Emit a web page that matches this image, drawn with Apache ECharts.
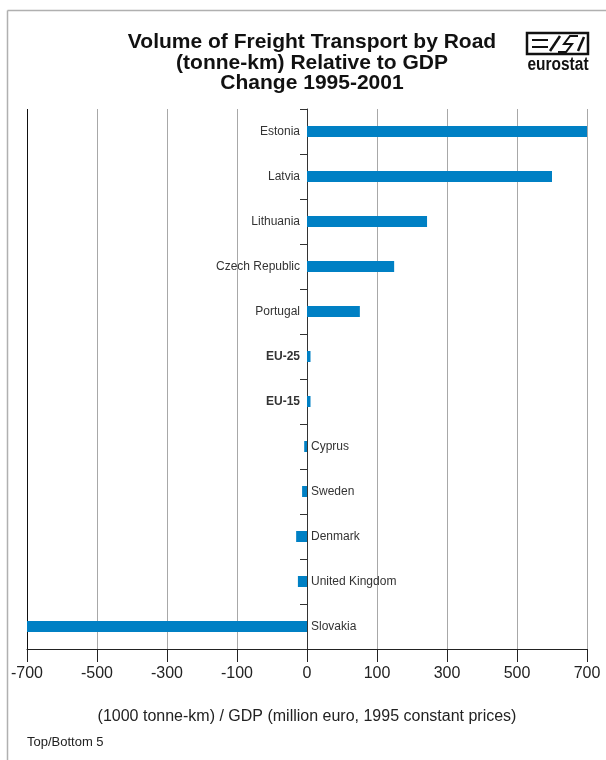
<!DOCTYPE html>
<html>
<head>
<meta charset="utf-8">
<script src="https://cdn.jsdelivr.net/npm/echarts@6/dist/echarts.min.js"></script>
<style>
html,body{margin:0;padding:0;background:#fff;}
#chart{width:606px;height:760px;}
</style>
</head>
<body>
<div id="chart"></div>
<script>
// Categories (top to bottom)
var categories = ['Estonia','Latvia','Lithuania','Czech Republic','Portugal','EU-25','EU-15','Cyprus','Sweden','Denmark','United Kingdom','Slovakia'];
// Values in axis units (axis drawn -800..800, step 200)
var values = [800, 700, 343, 249, 151, 10, 10, -8, -14, -31, -26, -800];
// Tick labels as printed on the reference axis
var tickLabels = ['-700','-500','-300','-100','0','100','300','500','700'];
var boldCats = ['EU-25','EU-15'];

var FONT = '"Liberation Sans", Arial, sans-serif';
var chart = echarts.init(document.getElementById('chart'), null, {renderer:'canvas'});

var barData = values.map(function(v, i){
  var pos = v >= 0 ? 'left' : 'right';
  return {
    value: v,
    label: {
      show: true,
      position: pos,
      distance: v >= 0 ? 7 : 4,
      formatter: categories[i],
      fontWeight: boldCats.indexOf(categories[i]) >= 0 ? 'bold' : 'normal'
    }
  };
});

var gridColors = tickLabels.map(function(t, i){ return i === 0 ? '#111' : '#a8a8a8'; });

var option = {
  animation: false,
  backgroundColor: '#fff',
  grid: {left: 27, right: 19, top: 109, bottom: 111, containLabel: false},
  xAxis: {
    type: 'value',
    min: -800, max: 800, interval: 200,
    axisLine: {show: true, lineStyle: {color: '#222', width: 1}},
    axisTick: {show: true, length: 13, lineStyle: {color: '#222', width: 1}},
    axisLabel: {
      margin: 17, fontSize: 16, color: '#222', fontFamily: FONT,
      formatter: function(v){ var i = Math.round((v + 800) / 200); return tickLabels[i] || ''; }
    },
    splitLine: {show: true, lineStyle: {color: gridColors, width: 1}},
    name: '(1000 tonne-km) / GDP (million euro, 1995 constant prices)',
    nameLocation: 'middle', nameGap: 60,
    nameTextStyle: {fontSize: 16, color: '#222', fontFamily: FONT}
  },
  yAxis: {
    type: 'category',
    data: categories,
    inverse: true,
    axisLine: {show: true, onZero: true, lineStyle: {color: '#333', width: 1}},
    axisTick: {show: true, length: 7, lineStyle: {color: '#333', width: 1}},
    axisLabel: {show: false},
    splitLine: {show: false}
  },
  series: [{
    type: 'bar',
    data: barData,
    barWidth: 11,
    itemStyle: {color: '#0080c4'},
    label: {fontSize: 12, color: '#333', fontFamily: FONT}
  }],
  graphic: [
    {type: 'line', shape: {x1: 7.5, y1: 10.5, x2: 606, y2: 10.5}, style: {stroke: '#b0b0b0', lineWidth: 1.5}},
    {type: 'line', shape: {x1: 7.5, y1: 10.5, x2: 7.5, y2: 760}, style: {stroke: '#b0b0b0', lineWidth: 1.5}},
    {type: 'text', x: 312, y: 32, style: {
      text: 'Volume of Freight Transport by Road\n(tonne-km) Relative to GDP\nChange 1995-2001',
      textAlign: 'center', font: 'bold 21px ' + FONT, fill: '#111', lineHeight: 20.5
    }},
    {type: 'text', x: 27, y: 736, style: {text: 'Top/Bottom 5', font: '13px ' + FONT, fill: '#222'}},
    // eurostat logo
    {type: 'rect', shape: {x: 527, y: 33, width: 61, height: 21}, style: {fill: 'none', stroke: '#111', lineWidth: 2.5}},
    {type: 'polyline', shape: {points: [[532,40],[548,40]]}, style: {stroke: '#111', lineWidth: 2}},
    {type: 'polyline', shape: {points: [[532,47],[548,47]]}, style: {stroke: '#111', lineWidth: 2}},
    {type: 'polyline', shape: {points: [[550,51],[560,36]]}, style: {stroke: '#111', lineWidth: 2.5}},
    {type: 'polyline', shape: {points: [[578,36],[570,36],[564,44],[572,44],[566,52],[558,52]]}, style: {stroke: '#111', lineWidth: 2, fill: 'none'}},
    {type: 'polyline', shape: {points: [[584,37],[578,51]]}, style: {stroke: '#111', lineWidth: 2.5}},
    {type: 'text', x: 558, y: 56, scaleX: 0.86, style: {text: 'eurostat', textAlign: 'center', font: 'bold 18px ' + FONT, fill: '#111'}}
  ]
};
chart.setOption(option);
</script>
</body>
</html>
